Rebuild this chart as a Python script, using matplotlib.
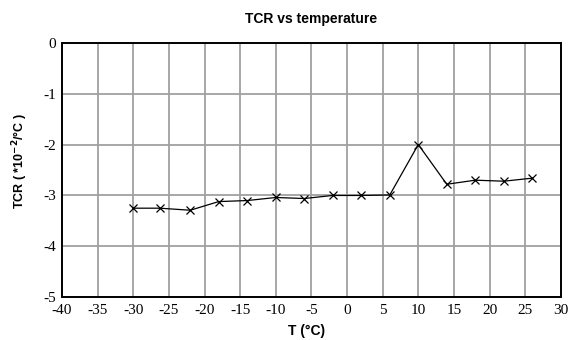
import matplotlib

matplotlib.use("Agg")
import matplotlib.pyplot as plt

temperature = [-30, -26.3, -22, -18, -14, -10, -6, -2, 2, 6, 10, 14, 18, 22, 26]
tcr = [-3.25, -3.25, -3.29, -3.12, -3.10, -3.04, -3.06, -3.0, -3.0, -2.99, -2.0, -2.78, -2.70, -2.72, -2.66]
x_ticks = list(range(-40, 31, 5))
y_ticks = [-5, -4, -3, -2, -1, 0]

fig = plt.figure(figsize=(5.74, 3.4), dpi=100)
ax = fig.add_axes([0.108, 0.1256, 0.869, 0.7488])

ax.plot(temperature, tcr, color="black", linewidth=0.9, marker="x", markersize=6,
        markeredgewidth=0.9, zorder=3)

ax.set_xlim(-40, 30)
ax.set_ylim(-5, 0)
ax.set_xticks(x_ticks)
ax.set_yticks(y_ticks)
ax.grid(True, color="#a0a0a0", linewidth=1.3)
ax.set_axisbelow(True)
for spine in ax.spines.values():
    spine.set_linewidth(1.4)
    spine.set_color("black")
ax.tick_params(axis="x", length=0, pad=5)
ax.tick_params(axis="y", length=0, pad=4)

# tick labels use a plain hyphen as in the source figure
ax.set_xticklabels([str(v) for v in x_ticks], fontfamily="Liberation Serif", fontsize=11)
ax.set_yticklabels([str(v) for v in y_ticks], fontfamily="Liberation Serif", fontsize=11)

ax.set_title("TCR vs temperature", fontfamily="Liberation Sans", fontweight="bold", fontsize=10, pad=14)
ax.set_xlabel("T (\u00b0C)", fontfamily="Liberation Sans", fontweight="bold", fontsize=10)
ax.set_ylabel("TCR ( *10$^{\\mathbf{-2}}$/\u00b0C )", fontfamily="Liberation Sans", fontweight="bold",
              fontsize=9)
ax.xaxis.set_label_coords(0.49, -0.105)
ax.yaxis.set_label_coords(-0.064, 0.535)

fig.savefig("out.png", dpi=100)
